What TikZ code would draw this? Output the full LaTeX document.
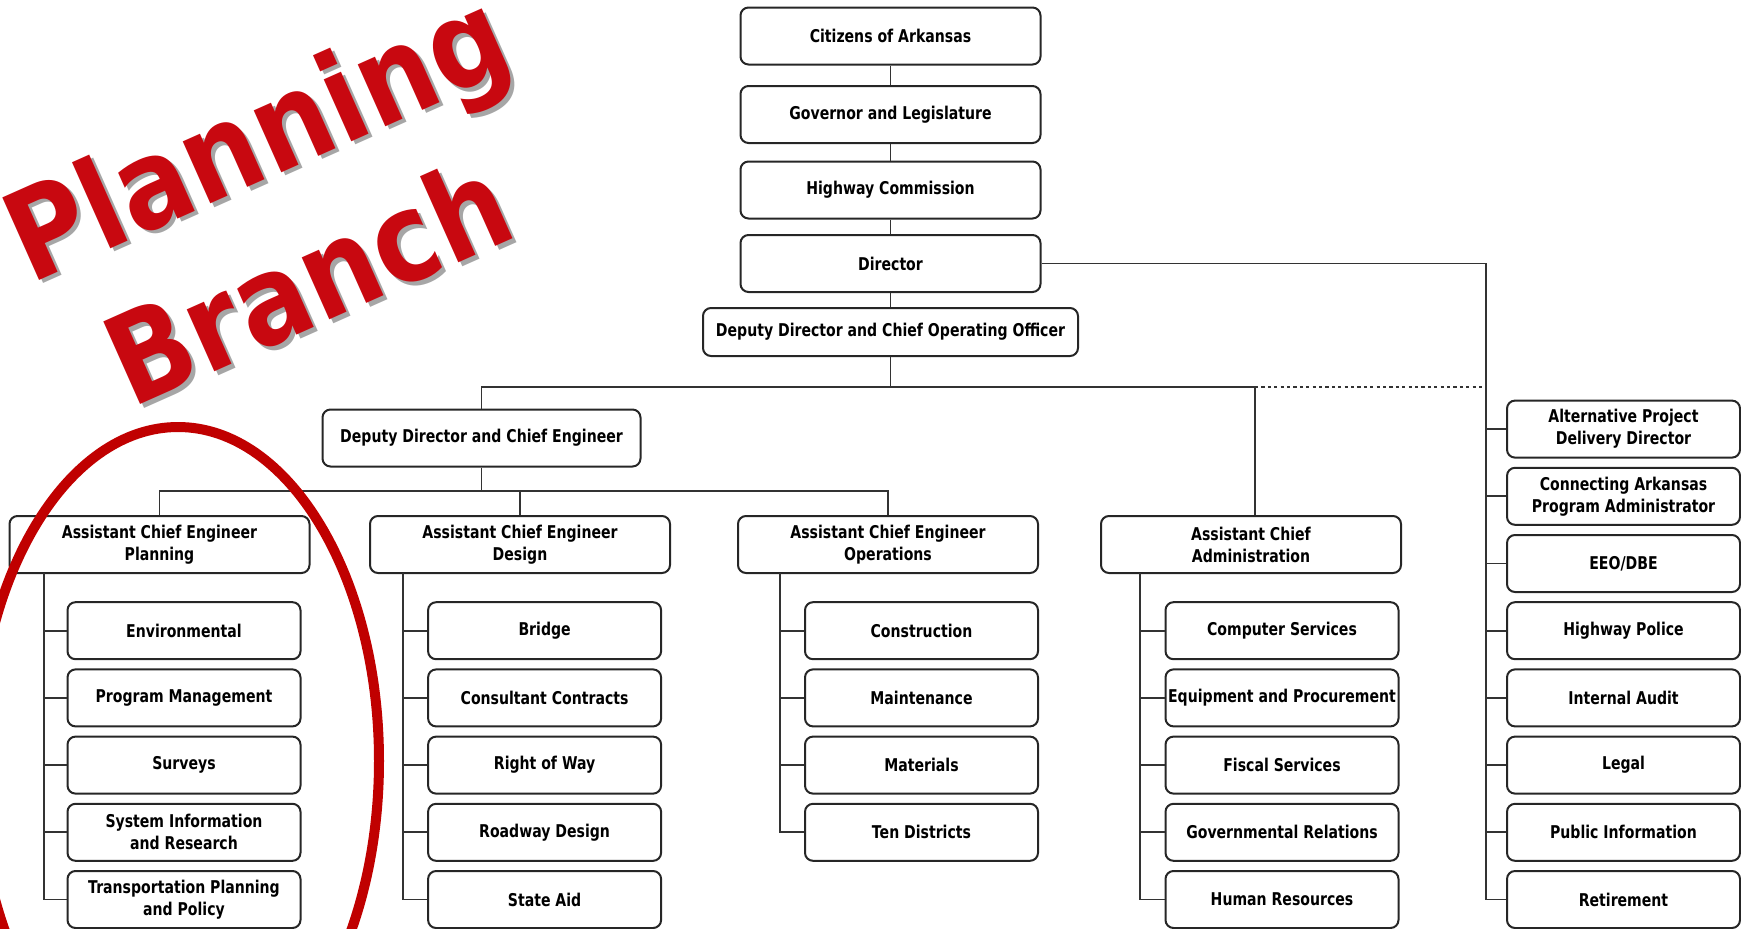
\documentclass[tikz,border=0pt]{standalone}
\usepackage{fontspec}
\newfontfamily\boxfont{DejaVu Sans}[FakeStretch=0.8]
\newfontfamily\bannerfont{DejaVu Sans}[FakeStretch=0.87]
\definecolor{ringred}{RGB}{192,0,0}
\definecolor{bannerred}{RGB}{200,8,16}

\tikzset{
  unit/.style={draw=black!85, line width=1pt, rounded corners=4pt, fill=white,
    align=center, inner sep=1pt, minimum width=150pt, minimum height=28.5pt,
    font=\boxfont\bfseries\fontsize{8.8}{11}\selectfont},
  subunit/.style={unit, minimum width=116.5pt},
  link/.style={draw=black!80, line width=0.9pt},
  banner/.style={font=\bannerfont\bfseries\fontsize{62}{62}\selectfont,
    text=bannerred, rotate=24, anchor=base, inner sep=0pt},
}

\begin{document}
\begin{tikzpicture}[x=0.5pt,y=-0.5pt]
\useasboundingbox (0,0) rectangle (1741,928);

% top of the chart
\node[unit] (citizens)   at (890.5,36)    {Citizens of Arkansas};
\node[unit] (governor)   at (890.5,114.5) {Governor and Legislature};
\node[unit] (commission) at (890.5,190)   {Highway Commission};
\node[unit] (director)   at (890.5,263.5) {Director};
\node[unit, minimum width=187.5pt, minimum height=24pt] (coo) at (890.5,332)
  {Deputy Director and Chief Operating Officer};
\draw[link] (citizens) -- (governor);
\draw[link] (governor) -- (commission);
\draw[link] (commission) -- (director);
\draw[link] (director) -- (coo);

\coordinate (adminjoin) at (1255,387);
\coordinate (staffjoin) at (1485.6,263.5);
\coordinate (engbar) at (481.5,491);

\node[unit, minimum width=159pt] (chiefeng) at (481.5,438) {Deputy Director and Chief Engineer};

% assistant chiefs
\node[unit] (planning)   at (159.5,544.5) {Assistant Chief Engineer\\Planning};
\node[unit] (design)     at (520,544.5)   {Assistant Chief Engineer\\Design};
\node[unit] (operations) at (888,544.5)   {Assistant Chief Engineer\\Operations};
\node[unit] (admin)      at (1251,544.5)  {Assistant Chief\\Administration};

\draw[link] (coo) -- (coo |- adminjoin);
\draw[link] (chiefeng.north) |- (adminjoin) -- (adminjoin |- admin.north);
\draw[link, dash pattern=on 1.6pt off 1.6pt] (adminjoin) -- (adminjoin -| staffjoin);
\draw[link] (chiefeng) -- (engbar);
\draw[link] (planning.north) |- (engbar) -| (operations.north);
\draw[link] (design.north) -- (design.north |- engbar);

% planning
\node[subunit] (environ)   at (184,630.7) {Environmental};
\node[subunit] (progmgmt)  at (184,697.9) {Program Management};
\node[subunit] (surveys)   at (184,765.1) {Surveys};
\node[subunit] (sysinfo)   at (184,832.3) {System Information\\and Research};
\node[subunit] (transplan) at (184,899.5) {Transportation Planning\\and Policy};
\coordinate (planspine) at (44,573);
\draw[link] (planspine) |- (transplan.west);
\draw[link] (planspine |- environ.west) -- (environ.west);
\draw[link] (planspine |- progmgmt.west) -- (progmgmt.west);
\draw[link] (planspine |- surveys.west) -- (surveys.west);
\draw[link] (planspine |- sysinfo.west) -- (sysinfo.west);

% design
\node[subunit] (bridge)     at (544.6,630.7) {Bridge};
\node[subunit] (consultant) at (544.6,697.9) {Consultant Contracts};
\node[subunit] (rightofway) at (544.6,765.1) {Right of Way};
\node[subunit] (roadway)    at (544.6,832.3) {Roadway Design};
\node[subunit] (stateaid)   at (544.6,899.5) {State Aid};
\coordinate (designspine) at (403,573);
\draw[link] (designspine) |- (stateaid.west);
\draw[link] (designspine |- bridge.west) -- (bridge.west);
\draw[link] (designspine |- consultant.west) -- (consultant.west);
\draw[link] (designspine |- rightofway.west) -- (rightofway.west);
\draw[link] (designspine |- roadway.west) -- (roadway.west);

% operations
\node[subunit] (construct) at (921.5,630.7) {Construction};
\node[subunit] (maint)     at (921.5,697.9) {Maintenance};
\node[subunit] (materials) at (921.5,765.1) {Materials};
\node[subunit] (districts) at (921.5,832.3) {Ten Districts};
\coordinate (opsspine) at (780,573);
\draw[link] (opsspine) |- (districts.west);
\draw[link] (opsspine |- construct.west) -- (construct.west);
\draw[link] (opsspine |- maint.west) -- (maint.west);
\draw[link] (opsspine |- materials.west) -- (materials.west);

% administration
\node[subunit] (computer)  at (1282,630.7) {Computer Services};
\node[subunit] (equipment) at (1282,697.9) {Equipment and Procurement};
\node[subunit] (fiscal)    at (1282,765.1) {Fiscal Services};
\node[subunit] (govrel)    at (1282,832.3) {Governmental Relations};
\node[subunit] (hr)        at (1282,899.5) {Human Resources};
\coordinate (adminspine) at (1140,573);
\draw[link] (adminspine) |- (hr.west);
\draw[link] (adminspine |- computer.west) -- (computer.west);
\draw[link] (adminspine |- equipment.west) -- (equipment.west);
\draw[link] (adminspine |- fiscal.west) -- (fiscal.west);
\draw[link] (adminspine |- govrel.west) -- (govrel.west);

% right one
\node[subunit] (altdelivery) at (1623.5,429.1) {Alternative Project\\Delivery Director};
\node[subunit] (connark)     at (1623.5,496.3) {Connecting Arkansas\\Program Administrator};
\node[subunit] (eeo)         at (1623.5,563.5) {EEO/DBE};
\node[subunit] (police)      at (1623.5,630.7) {Highway Police};
\node[subunit] (audit)       at (1623.5,697.9) {Internal Audit};
\node[subunit] (legal)       at (1623.5,765.1) {Legal};
\node[subunit] (pubinfo)     at (1623.5,832.3) {Public Information};
\node[subunit] (retire)      at (1623.5,899.5) {Retirement};
\draw[link] (director.east) -- (staffjoin) |- (retire.west);
\draw[link] (staffjoin |- altdelivery.west) -- (altdelivery.west);
\draw[link] (staffjoin |- connark.west) -- (connark.west);
\draw[link] (staffjoin |- eeo.west) -- (eeo.west);
\draw[link] (staffjoin |- police.west) -- (police.west);
\draw[link] (staffjoin |- audit.west) -- (audit.west);
\draw[link] (staffjoin |- legal.west) -- (legal.west);
\draw[link] (staffjoin |- pubinfo.west) -- (pubinfo.west);

% title and ring
\node[banner, text=black!35] (planshadow) at (278,179.5) {Planning};
\node[banner] (plantitle) at (274,176) {Planning};
\node[banner, text=black!35] (branchshadow) at (330,326) {Branch};
\node[banner] (branchtitle) at (326,322) {Branch};
\draw[ringred, line width=5pt] (178,761) ellipse [x radius=100.5pt, y radius=167pt];
%
\end{tikzpicture}
\end{document}
